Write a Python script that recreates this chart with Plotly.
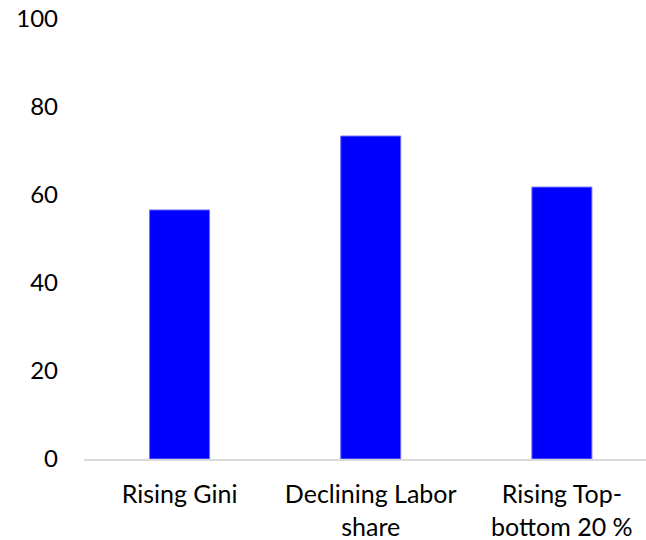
import plotly.graph_objects as go

categories = ["Rising Gini", "Declining Labor<br>share", "Rising Top-<br>bottom 20 %"]
values = [56.6, 73.4, 61.8]
y_ticks = [0, 20, 40, 60, 80, 100]

fig = go.Figure(go.Bar(
    x=list(range(len(categories))),
    y=values,
    width=0.314,
    marker=dict(color="#0000FF", line=dict(color="#7070ff", width=1)),
    hoverinfo="skip",
))

fig.update_layout(
    width=646, height=540,
    margin=dict(l=84, r=0, t=19, b=81),
    plot_bgcolor="white", paper_bgcolor="white",
    font=dict(family="Lato, Open Sans, sans-serif", size=25, color="#000000"),
    showlegend=False,
    xaxis=dict(
        tickmode="array", tickvals=list(range(len(categories))), ticktext=categories,
        range=[-0.5, 2.44], showline=True, linecolor="#d9d9d9", linewidth=2,
        showgrid=False, zeroline=False, ticks="", ticklabelstandoff=12,
        tickfont=dict(size=25),
    ),
    yaxis=dict(
        range=[0, 100], tickvals=y_ticks, showgrid=False, zeroline=False,
        showline=False, ticks="", ticklabelstandoff=25,
        tickfont=dict(size=24),
    ),
)

fig.write_html("out.html", config={"displayModeBar": False})

with open("out.html", "r", encoding="utf-8") as f:
    html = f.read()
html = html.replace("<body>", '<body style="margin:0;padding:0;">', 1)
with open("out.html", "w", encoding="utf-8") as f:
    f.write(html)
